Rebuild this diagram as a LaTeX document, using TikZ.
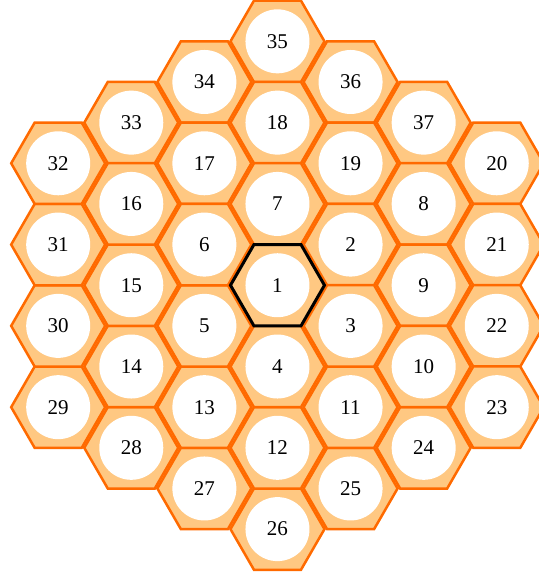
\documentclass[tikz,border=0pt]{standalone}
\usepackage{fontspec}
\setmainfont{Liberation Serif}
\usepackage{tikz}
\usepackage{xcolor}
\usetikzlibrary{shapes.geometric}
\definecolor{honey}{RGB}{255, 200, 130}
\definecolor{rim}{RGB}{255, 106, 0}
\tikzset{
    cell/.style={regular polygon, regular polygon sides=6, minimum size=94pt, inner sep=0pt, draw=rim, line width=2.5pt, fill=honey, font=\fontsize{21}{24}\selectfont,
        path picture={\fill[white] (path picture bounding box.center) circle (32pt);}},
    core/.style={cell, draw=black, line width=3pt}
}

\begin{document}
\begin{tikzpicture}[x=73.1pt, y=40.65pt]
        \useasboundingbox (-3.796,-7.178) rectangle (3.577,7.017);

        % outer ring
        \node[cell] (c35) at (0,6) {35};
        \node[cell] (c36) at (1,5) {36};
        \node[cell] (c37) at (2,4) {37};
        \node[cell] (c20) at (3,3) {20};
        \node[cell] (c21) at (3,1) {21};
        \node[cell] (c22) at (3,-1) {22};
        \node[cell] (c23) at (3,-3) {23};
        \node[cell] (c24) at (2,-4) {24};
        \node[cell] (c25) at (1,-5) {25};
        \node[cell] (c26) at (0,-6) {26};
        \node[cell] (c27) at (-1,-5) {27};
        \node[cell] (c28) at (-2,-4) {28};
        \node[cell] (c29) at (-3,-3) {29};
        \node[cell] (c30) at (-3,-1) {30};
        \node[cell] (c31) at (-3,1) {31};
        \node[cell] (c32) at (-3,3) {32};
        \node[cell] (c33) at (-2,4) {33};
        \node[cell] (c34) at (-1,5) {34};

        % middle ring
        \node[cell] (c18) at (0,4) {18};
        \node[cell] (c19) at (1,3) {19};
        \node[cell] (c8) at (2,2) {8};
        \node[cell] (c9) at (2,0) {9};
        \node[cell] (c10) at (2,-2) {10};
        \node[cell] (c11) at (1,-3) {11};
        \node[cell] (c12) at (0,-4) {12};
        \node[cell] (c13) at (-1,-3) {13};
        \node[cell] (c14) at (-2,-2) {14};
        \node[cell] (c15) at (-2,0) {15};
        \node[cell] (c16) at (-2,2) {16};
        \node[cell] (c17) at (-1,3) {17};

        % inner ring
        \node[cell] (c7) at (0,2) {7};
        \node[cell] (c2) at (1,1) {2};
        \node[cell] (c3) at (1,-1) {3};
        \node[cell] (c4) at (0,-2) {4};
        \node[cell] (c5) at (-1,-1) {5};
        \node[cell] (c6) at (-1,1) {6};

        \node[core] (c1) at (0,0) {1};
    \end{tikzpicture}
\end{document}
